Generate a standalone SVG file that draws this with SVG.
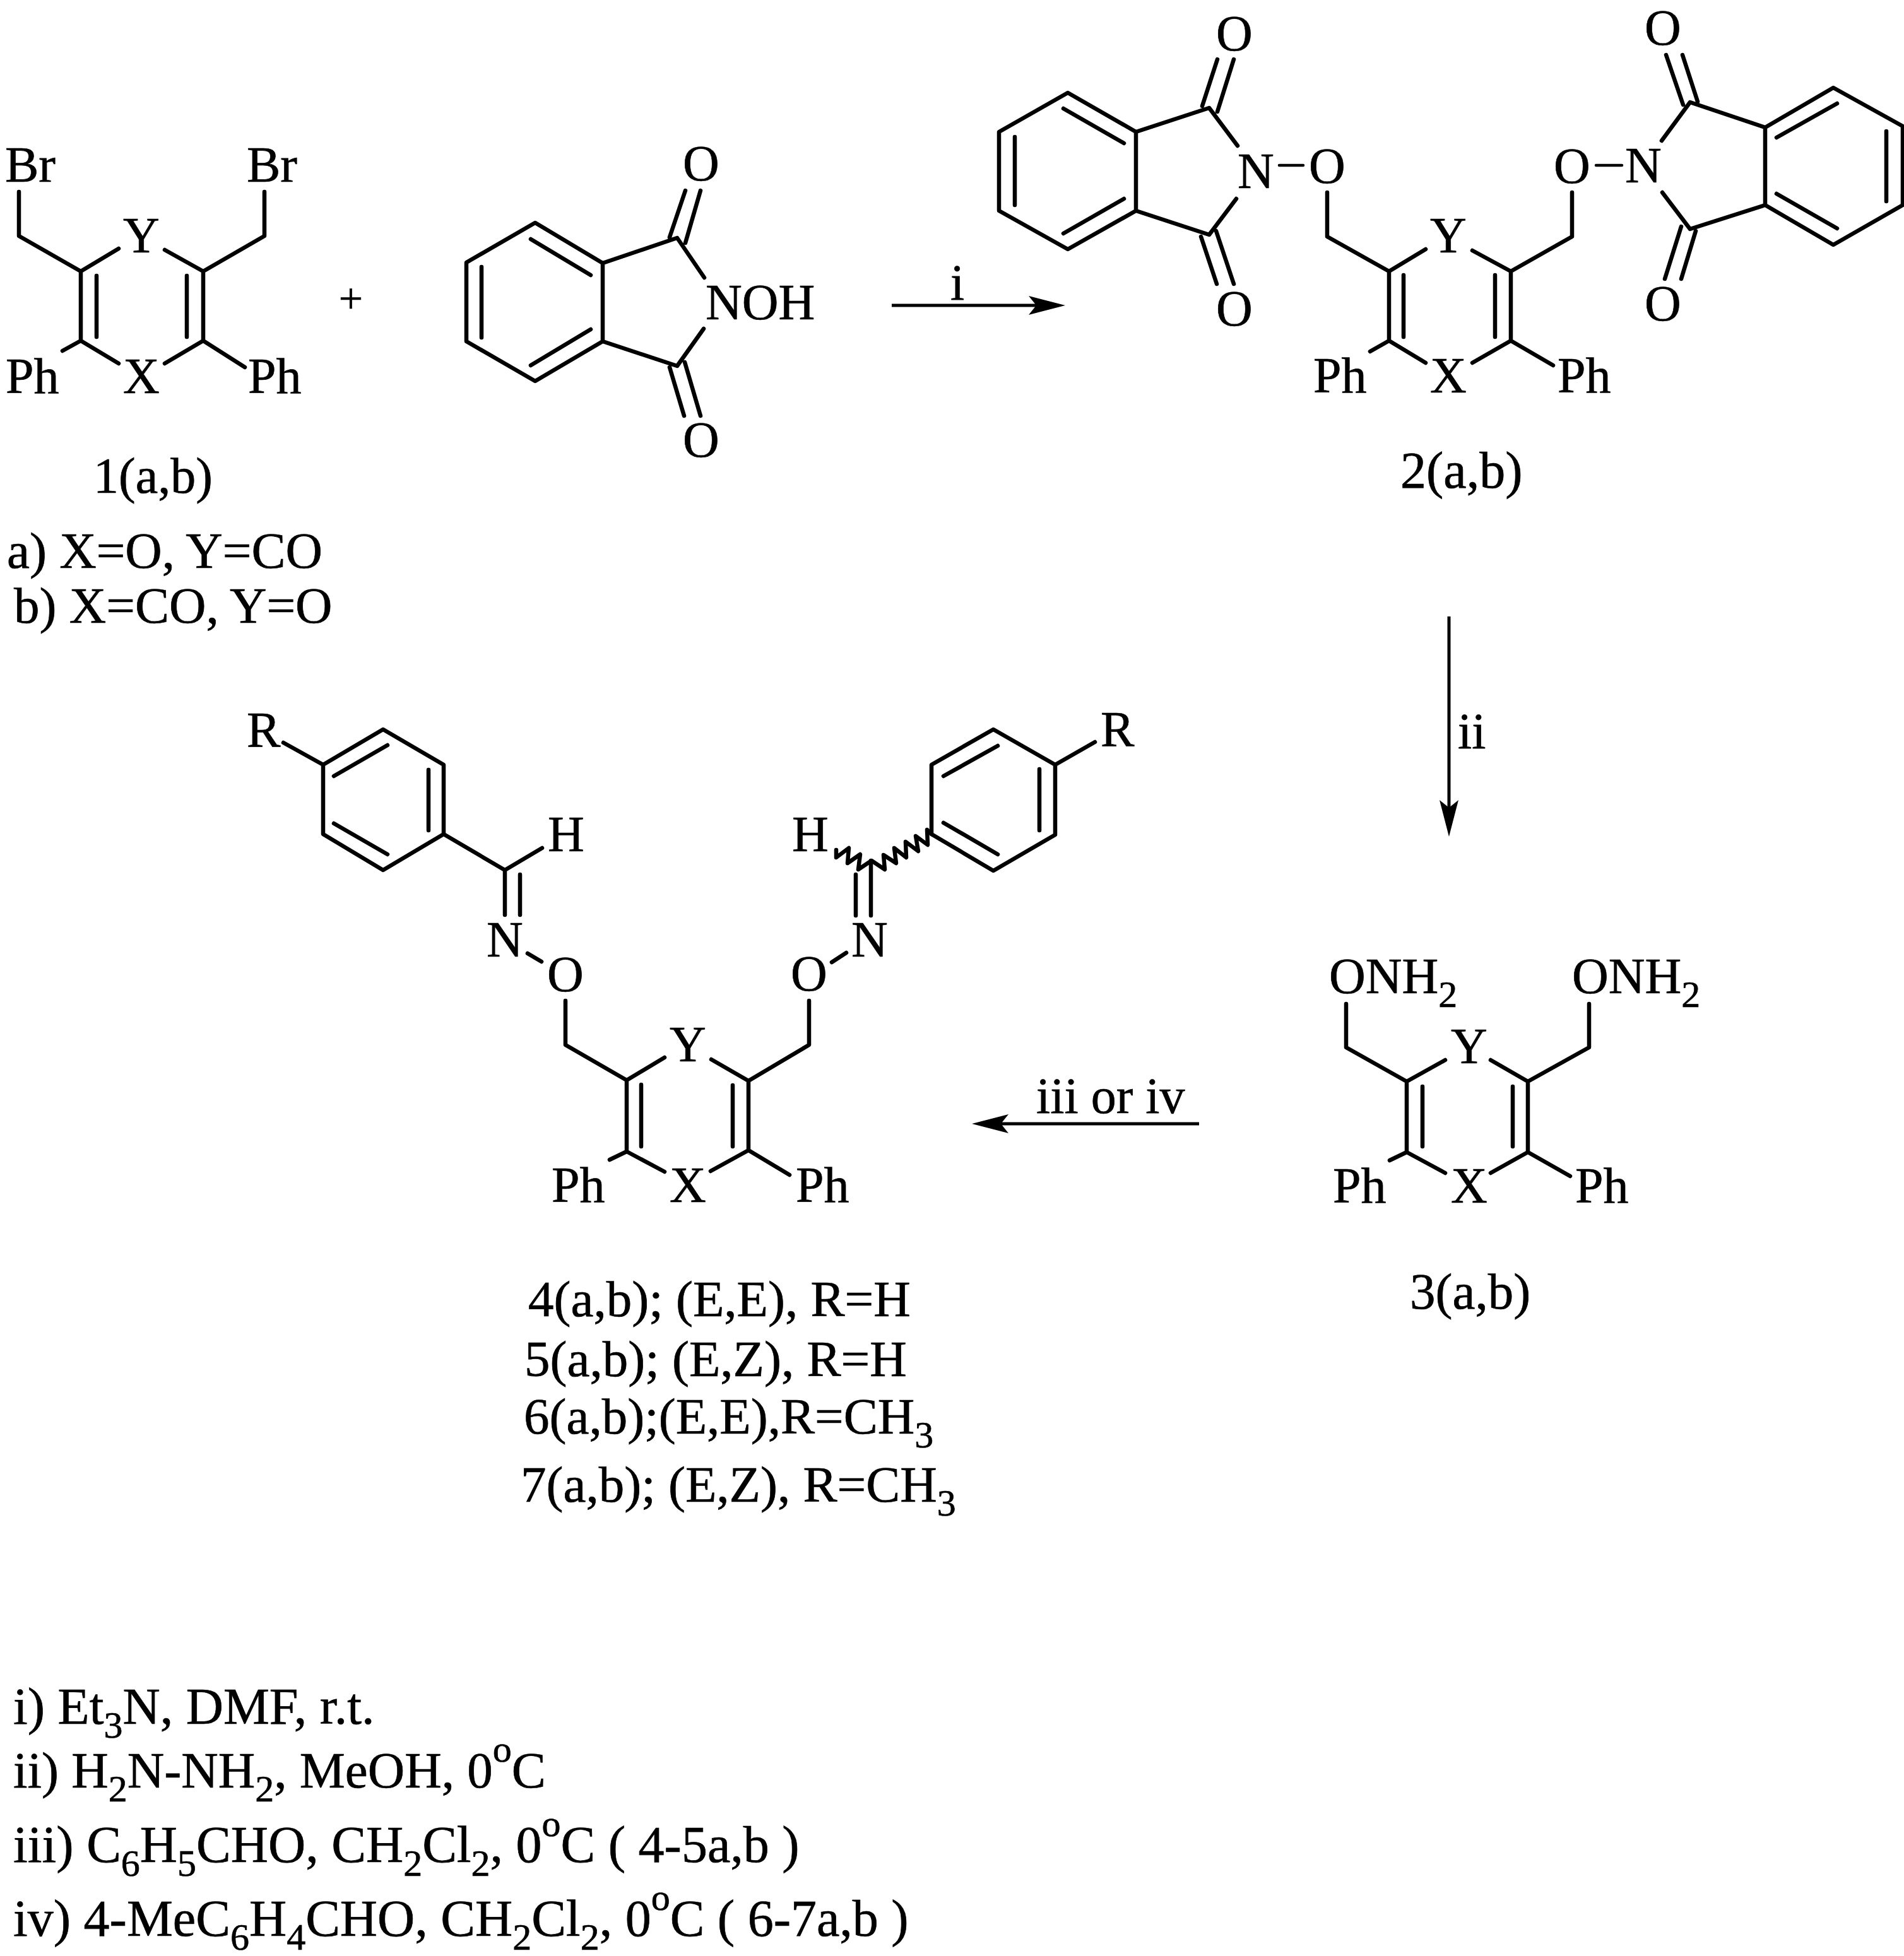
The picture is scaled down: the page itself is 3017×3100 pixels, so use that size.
<svg xmlns="http://www.w3.org/2000/svg" width="3017" height="3100" viewBox="0 0 3017 3100">
<style>
text{font-family:"Liberation Serif","Times New Roman",serif;font-size:80px;fill:#000;stroke:#000;stroke-width:.7}
.m{text-anchor:middle}
.b{fill:none;stroke:#000;stroke-width:6.5;stroke-linecap:round;stroke-linejoin:round}
.t{fill:none;stroke:#000;stroke-width:4.5;stroke-linecap:round}
.a{fill:none;stroke:#000;stroke-width:5}
.s{font-size:60px}
.c{font-size:82px}
.l{font-size:81px}
</style>
<defs>
<marker id="head" markerUnits="userSpaceOnUse" markerWidth="60" markerHeight="32" refX="12" refY="15" orient="auto"><path d="M0 0L58 15L0 30L12 15Z" fill="#000"/></marker>
</defs>
<rect width="3017" height="3100" fill="#fff"/>

<g id="compound-1">
<path class="b" d="M30 304V374L128 430V540L188 576M128 430L188 394M153 437V534M261 396L322 430V540L261 576M322 430L419 374V304M296 437V534M99 556L128 540M322 540L388 582"/>
<text x="8" y="288">Br</text><text x="391" y="288">Br</text>
<text class="m" x="224" y="400">Y</text><text class="m" x="224" y="623">X</text>
<text x="9" y="623">Ph</text><text x="393" y="623">Ph</text>
<text x="148" y="781">1(a,b)</text>
<text class="l" x="11" y="900">a) X=O, Y=CO</text>
<text class="l" x="22" y="987">b) X=CO, Y=O</text>
</g>

<g id="plus"><text class="m" x="556" y="496" style="font-size:68px">+</text></g>

<g id="n-hydroxyphthalimide">
<path class="b" d="M848 353L955 417V541L848 604L739 541V416ZM763 423V535M841 379L936 436M936 522L841 579M955 417L1073 377L1116 440M955 541L1073 580L1115 521M1061 376L1086 302M1086 385L1110 302M1061 582L1084 659M1085 574L1110 659"/>
<text class="m" x="1111" y="286">O</text><text class="m" x="1111" y="724">O</text>
<text x="1118" y="506">NOH</text>
</g>

<g id="compound-2">
<path class="b" d="M1692 147L1800 209V334L1692 395L1583 334V209ZM1608 217V325M1685 172L1781 227M1781 315L1685 370M1800 209L1916 171L1961 231M1800 334L1916 372L1959 315M1905 168L1929 94M1929 177L1955 94M1903 375L1928 450M1927 366L1955 450"/>
<path class="t" d="M2027 262H2065M2529 262H2570"/>
<path class="b" d="M2103 305V375L2201 430V540L2259 575M2201 430L2259 395M2224 436V534M2171 557L2201 540M2333 397L2394 430V540L2333 575M2394 430L2491 375V305M2369 436V534M2394 540L2461 579"/>
<path class="b" d="M2905 139L3015 200V325L2905 388L2797 325V202ZM2989 208V319M2815 218L2911 164M2815 307L2911 362M2797 202L2678 162L2633 223M2797 325L2678 363L2634 305M2667 166L2640 87M2690 161L2666 87M2664 359L2638 442M2687 366L2664 442"/>
<text class="m" x="1956" y="80">O</text><text class="m" x="1956" y="516">O</text>
<text class="m" x="1990" y="298">N</text><text class="m" x="2103" y="290">O</text>
<text class="m" x="2491" y="290">O</text><text class="m" x="2604" y="289">N</text>
<text class="m" x="2635" y="71">O</text><text class="m" x="2635" y="508">O</text>
<text class="m" x="2295" y="400">Y</text><text class="m" x="2295" y="622">X</text>
<text x="2081" y="622">Ph</text><text x="2468" y="622">Ph</text>
<text class="c" x="2219" y="773">2(a,b)</text>
</g>

<g id="compound-3">
<path class="b" d="M2133 1591V1660L2229 1714V1826L2290 1859M2229 1714L2290 1680M2254 1722V1817M2202 1839L2229 1826M2362 1680L2421 1714V1826L2362 1859M2421 1714L2518 1660V1591M2397 1722V1817M2421 1826L2488 1864"/>
<text x="2106" y="1574">ONH<tspan class="s" dy="22">2</tspan></text>
<text x="2491" y="1574">ONH<tspan class="s" dy="22">2</tspan></text>
<text class="m" x="2328" y="1685">Y</text><text class="m" x="2328" y="1906">X</text>
<text x="2112" y="1906">Ph</text><text x="2496" y="1906">Ph</text>
<text class="l" x="2234" y="2074">3(a,b)</text>
</g>

<g id="compound-4-7">
<path class="b" d="M449 1177L512 1212L607 1156L703 1212V1322L607 1379L512 1322V1212M529 1230L614 1181M679 1220V1316M529 1305L614 1354M703 1322L800 1379L859 1344M800 1379V1450M824 1386V1450M836 1511L858 1524"/>
<path class="b" d="M896 1586V1656L993 1712V1825L1053 1857M993 1712L1053 1676M1016 1719V1817M966 1838L993 1825M1127 1679L1186 1713V1823L1126 1856M1186 1713L1282 1656V1586M1161 1720V1817M1186 1823L1251 1862"/>
<path class="b" d="M1318 1525L1341 1510M1380 1364V1451M1356 1386V1451"/>
<path class="b" d="M1325 1347V1359L1345 1344L1343 1368L1363 1354L1360 1378L1381 1364L1402 1378L1400 1355L1420 1368L1417 1344L1436 1359L1435 1334L1455 1349L1451 1325L1470 1339L1469 1315L1476 1322"/>
<path class="b" d="M1735 1176L1672 1212L1574 1156L1476 1212V1322L1574 1380L1672 1323V1212M1495 1230L1581 1182M1647 1219V1316M1495 1304L1581 1354"/>
<text x="391" y="1184">R</text><text x="1744" y="1183">R</text>
<text x="868" y="1349">H</text><text x="1255" y="1349">H</text>
<text class="m" x="800" y="1516">N</text><text class="m" x="1378" y="1516">N</text>
<text class="m" x="896" y="1571">O</text><text class="m" x="1282" y="1570">O</text>
<text class="m" x="1090" y="1682">Y</text><text class="m" x="1090" y="1905">X</text>
<text x="874" y="1905">Ph</text><text x="1261" y="1905">Ph</text>
<text class="l" x="837" y="2086">4(a,b); (E,E), R=H</text>
<text class="l" x="831" y="2181">5(a,b); (E,Z), R=H</text>
<text class="l" x="830" y="2272">6(a,b);(E,E),R=CH<tspan class="s" dy="22">3</tspan></text>
<text class="l" x="825" y="2380">7(a,b); (E,Z), R=CH<tspan class="s" dy="22">3</tspan></text>
</g>

<g id="connectors">
<path class="a" d="M1413 484H1642" marker-end="url(#head)"/>
<path class="a" d="M2296 977V1280" marker-end="url(#head)"/>
<path class="a" d="M1900 1781H1586" marker-end="url(#head)"/>
</g>

<g id="arrow-labels">
<text class="m" x="1517" y="475">i</text>
<text x="2310" y="1186">ii</text>
<text x="1642" y="1764">iii or iv</text>
</g>

<g id="conditions">
<text class="c" x="21" y="2732">i) Et<tspan class="s" dy="22">3</tspan><tspan class="c" dy="-22">N, DMF, r.t.</tspan></text>
<text class="l" x="21" y="2833">ii) H<tspan class="s" dy="22">2</tspan><tspan class="l" dy="-22">N-NH</tspan><tspan class="s" dy="22">2</tspan><tspan class="l" dy="-22">, MeOH, 0</tspan><tspan class="s" dy="-41">o</tspan><tspan class="l" dy="41">C</tspan></text>
<text class="c" x="21" y="2951">iii) C<tspan class="s" dy="22">6</tspan><tspan class="c" dy="-22">H</tspan><tspan class="s" dy="22">5</tspan><tspan class="c" dy="-22">CHO, CH</tspan><tspan class="s" dy="22">2</tspan><tspan class="c" dy="-22">Cl</tspan><tspan class="s" dy="22">2</tspan><tspan class="c" dy="-22">, 0</tspan><tspan class="s" dy="-41">o</tspan><tspan class="c" dy="41">C ( 4-5a,b )</tspan></text>
<text class="c" x="21" y="3068">iv) 4-MeC<tspan class="s" dy="22">6</tspan><tspan class="c" dy="-22">H</tspan><tspan class="s" dy="22">4</tspan><tspan class="c" dy="-22">CHO, CH</tspan><tspan class="s" dy="22">2</tspan><tspan class="c" dy="-22">Cl</tspan><tspan class="s" dy="22">2</tspan><tspan class="c" dy="-22">, 0</tspan><tspan class="s" dy="-41">o</tspan><tspan class="c" dy="41">C ( 6-7a,b )</tspan></text>
</g>
</svg>
